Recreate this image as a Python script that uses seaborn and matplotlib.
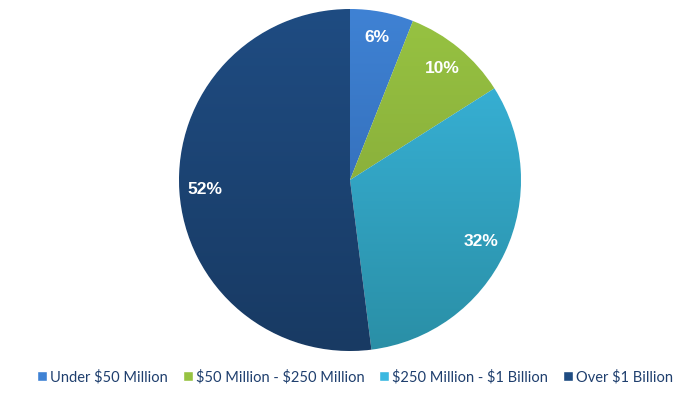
import numpy as np
import matplotlib
matplotlib.use("Agg")
import matplotlib.pyplot as plt
import matplotlib.colors as mcolors
import seaborn as sns

categories = ["Under $50 Million", "$50 Million - $250 Million",
              "$250 Million - $1 Billion", "Over $1 Billion"]
shares = [6, 10, 32, 52]

# top / bottom shades for the vertical gradient of each slice
top_colors = ["#3f82d4", "#97c342", "#3ab8e0", "#1f4c82"]
bottom_colors = ["#2c62a8", "#7f9f35", "#2a8fa6", "#183a63"]

sns.set_theme(style="white")
plt.rcParams["font.family"] = ["Liberation Sans", "DejaVu Sans"]
plt.rcParams["text.parse_math"] = False

fig = plt.figure(figsize=(7, 3.98), dpi=100)
ax = fig.add_axes([179 / 700, 47 / 398, 342 / 700, 342 / 398])

wedges, texts, autotexts = ax.pie(
    shares, colors=top_colors, startangle=90, counterclock=False,
    autopct="%1.0f%%", pctdistance=0.85,
    textprops=dict(color="white", fontsize=12.5, fontweight="bold"),
)

# gradient fill clipped to each wedge
t = np.linspace(0, 1, 256)[:, None]
for w, c1, c2 in zip(wedges, top_colors, bottom_colors):
    a = np.array(mcolors.to_rgb(c1))
    b = np.array(mcolors.to_rgb(c2))
    img = (1 - t)[..., None] * a + t[..., None] * b
    img = np.repeat(img, 2, axis=1)
    im = ax.imshow(img, extent=(-1, 1, -1, 1), aspect="auto", zorder=w.get_zorder() + 0.1)
    im.set_clip_path(w)
for at in autotexts:
    at.set_zorder(5)

ax.set_xlim(-1, 1)
ax.set_ylim(-1, 1)
ax.set_aspect("equal")
ax.axis("off")

handles = [plt.Rectangle((0, 0), 1, 1, facecolor=c) for c in top_colors]
leg = fig.legend(handles, categories, loc="center", bbox_to_anchor=(355 / 700, 1 - 377 / 398),
                 ncol=4, frameon=False, handlelength=0.7, handleheight=0.7,
                 handletextpad=0.2, columnspacing=1.0,
                 prop=dict(family=["Lato", "DejaVu Sans"], size=10.5))
for txt in leg.get_texts():
    txt.set_color("#1f3f6e")

fig.savefig("out.png", dpi=100, facecolor="white")
